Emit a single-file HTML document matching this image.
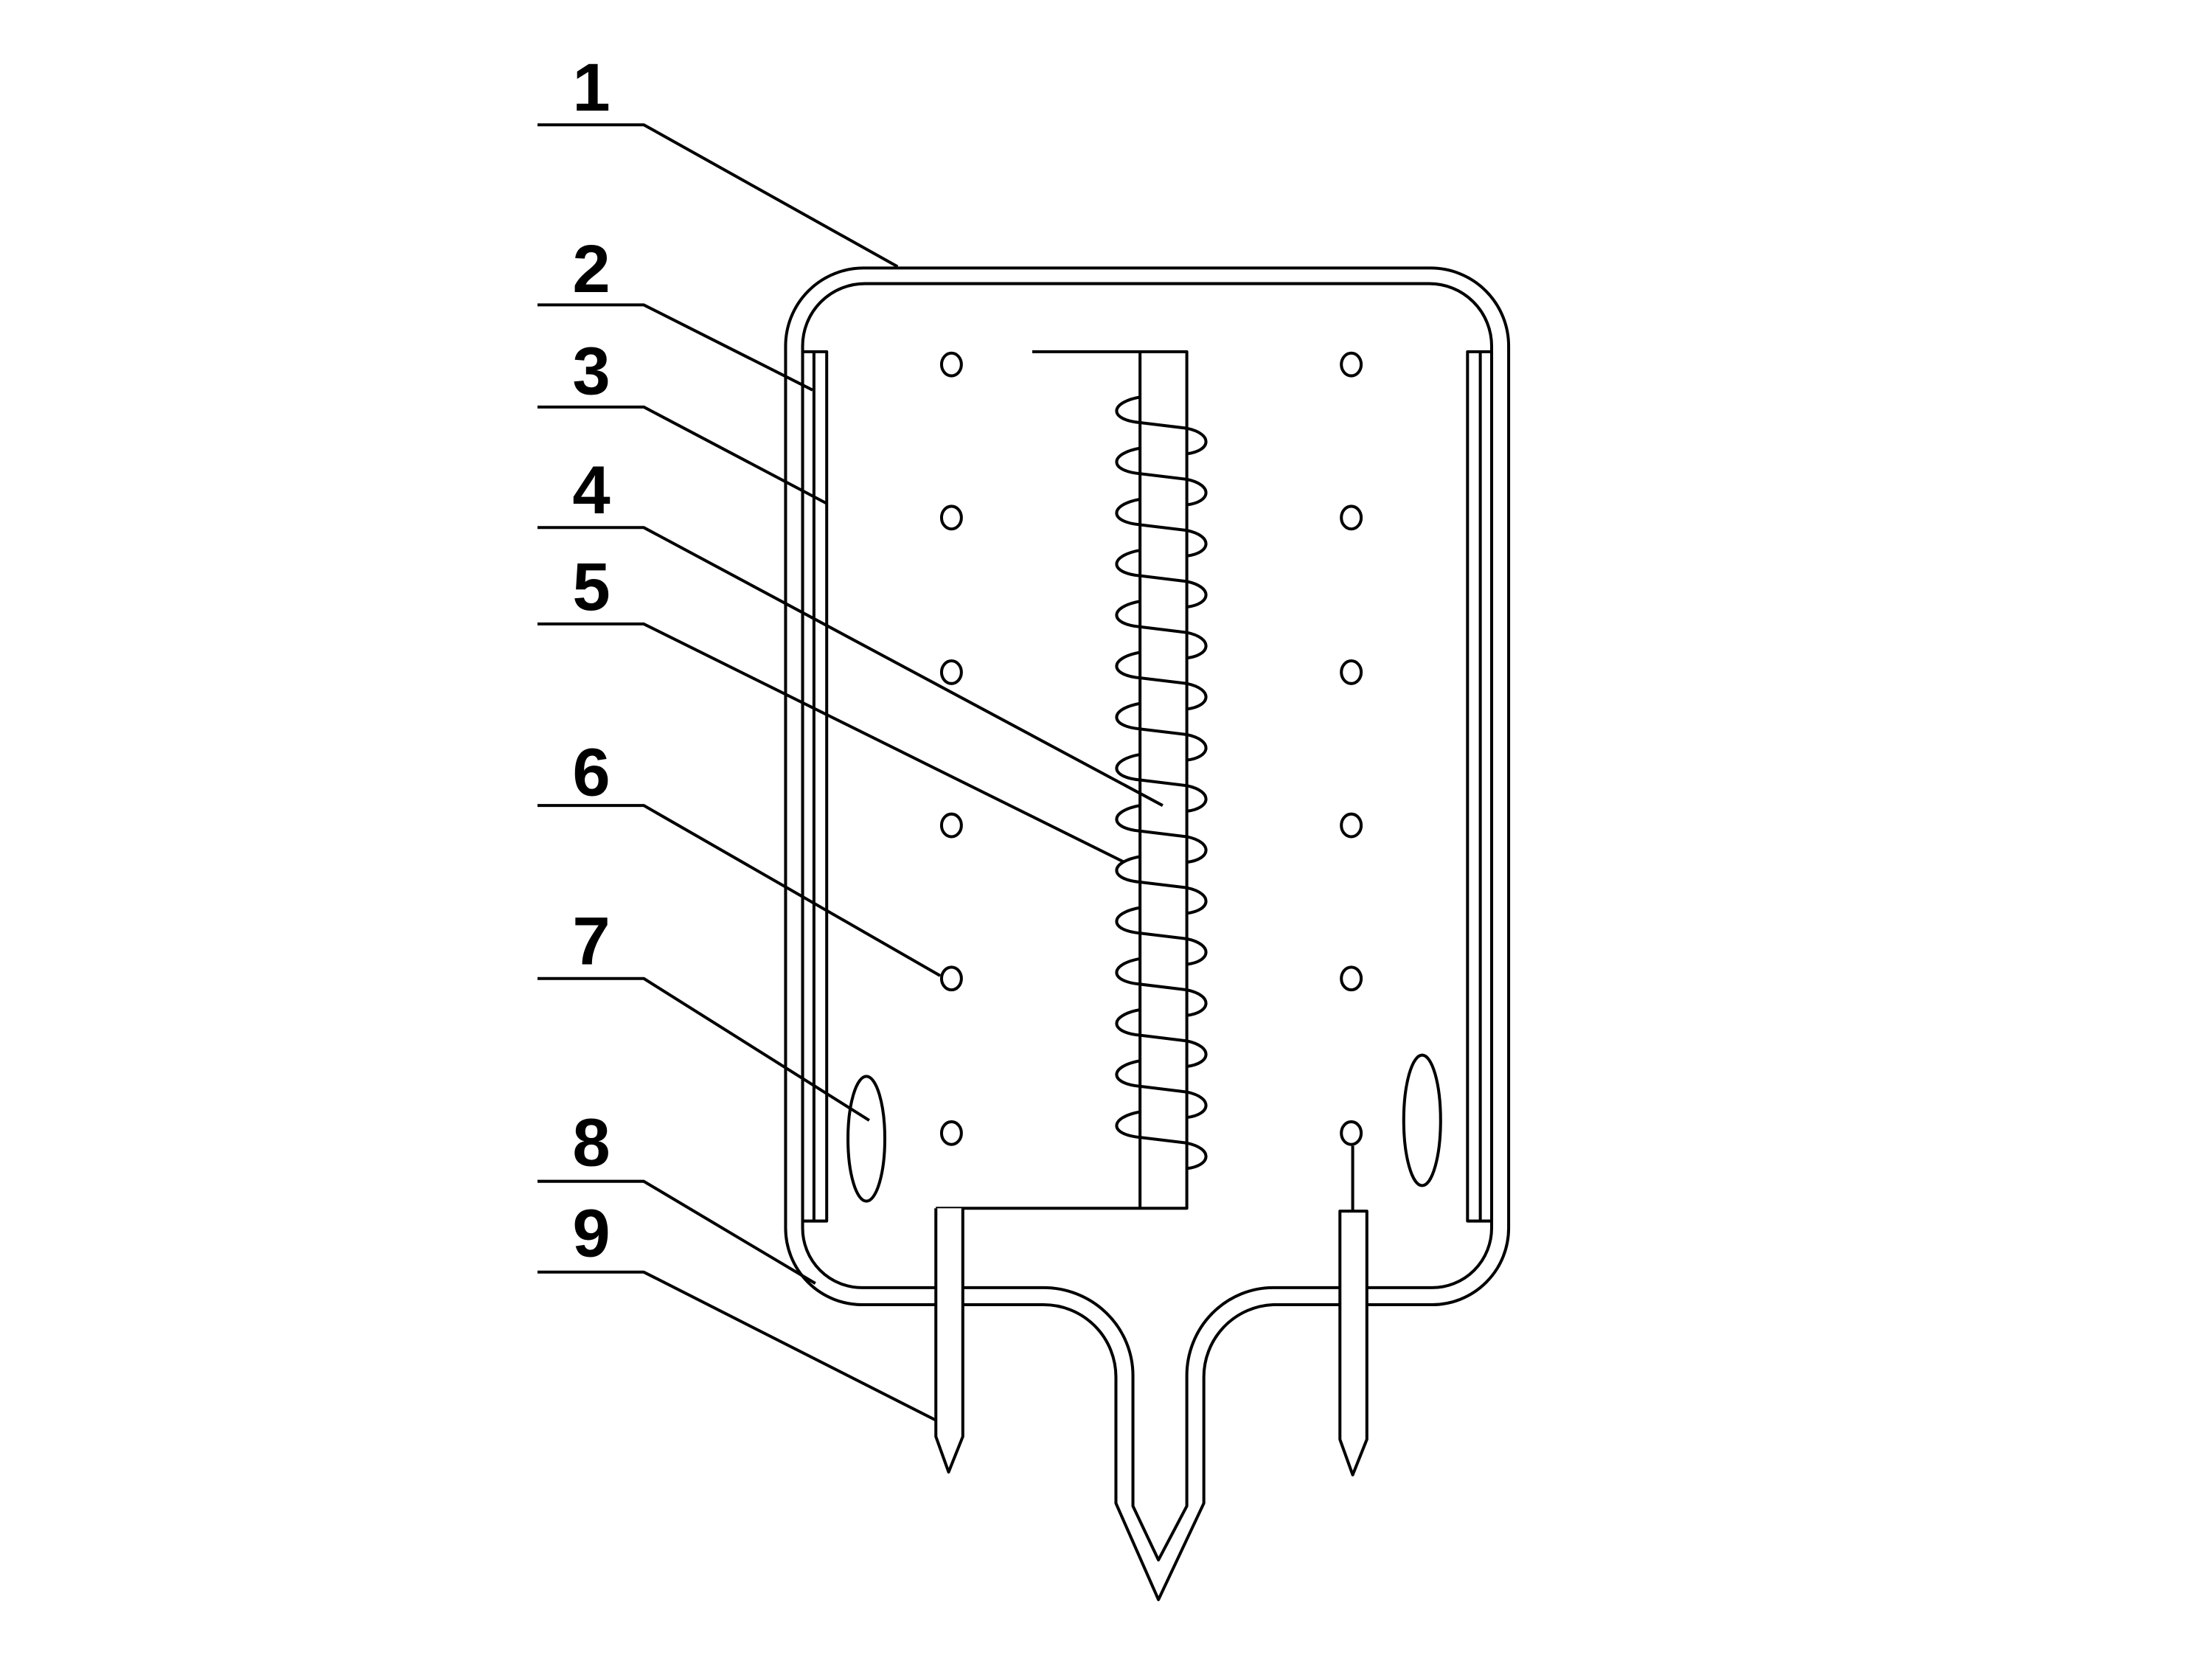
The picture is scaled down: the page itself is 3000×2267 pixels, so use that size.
<!DOCTYPE html>
<html><head><meta charset="utf-8"><style>
html,body{margin:0;padding:0;background:#fff;}
svg{display:block;}
text{font-family:"Liberation Sans",Arial,sans-serif;font-weight:bold;font-size:48px;fill:#000;}
</style></head><body>
<svg width="3000" height="2267" viewBox="0 0 1560 1179" xmlns="http://www.w3.org/2000/svg">
<g transform="translate(-2,0)">
<g fill="none" stroke="#000" stroke-width="2.1" stroke-linejoin="round">
<!-- labels leaders -->
<path d="M381 88 H456 L635 188"/>
<path d="M381 215 H456 L575 275"/>
<path d="M381 287 H456 L585 355"/>
<path d="M381 372 H456 L822 568"/>
<path d="M381 440 H456 L795 608"/>
<path d="M381 568 H456 L665 688"/>
<path d="M381 690 H456 L615 790"/>
<path d="M381 833 H456 L577 905"/>
<path d="M381 897 H456 L665 1003"/>
<!-- outer vessel -->
<path d="M556 866 V244 A55 55 0 0 1 611 189 H1011 A55 55 0 0 1 1066 244 V866 A54 54 0 0 1 1012 920 H900 A51 51 0 0 0 851 971 V1060 L819 1128 L789 1060 V971 A51 51 0 0 0 738 920 H610 A54 54 0 0 1 556 866 Z"/>
<!-- inner vessel -->
<path d="M568 866 V244 A44 44 0 0 1 612 200 H1010 A44 44 0 0 1 1054 244 V866 A42 42 0 0 1 1012 908 H900 A61 62 0 0 0 839 970 V1062 L819 1100 L801 1062 V970 A63 62 0 0 0 738 908 H610 A42 42 0 0 1 568 866 Z"/>
<!-- plates -->
<rect x="568" y="248" width="17" height="613"/>
<line x1="576" y1="248" x2="576" y2="861"/>
<rect x="1037" y="248" width="17" height="613"/>
<line x1="1046" y1="248" x2="1046" y2="861"/>
<!-- central rod -->
<path d="M730 248 H839 V852 H662"/>
<line x1="806" y1="248" x2="806" y2="852"/>
<!-- coil -->
<path d="M806 280 C784 284,784 296,806 298 L839 302 C858 306,856 318,839 320
M806 316 C784 320,784 332,806 334 L839 338 C858 342,856 354,839 356
M806 352 C784 356,784 368,806 370 L839 374 C858 378,856 390,839 392
M806 388 C784 392,784 404,806 406 L839 410 C858 414,856 426,839 428
M806 424 C784 428,784 440,806 442 L839 446 C858 450,856 462,839 464
M806 460 C784 464,784 476,806 478 L839 482 C858 486,856 498,839 500
M806 496 C784 500,784 512,806 514 L839 518 C858 522,856 534,839 536
M806 532 C784 536,784 548,806 550 L839 554 C858 558,856 570,839 572
M806 568 C784 572,784 584,806 586 L839 590 C858 594,856 606,839 608
M806 604 C784 608,784 620,806 622 L839 626 C858 630,856 642,839 644
M806 640 C784 644,784 656,806 658 L839 662 C858 666,856 678,839 680
M806 676 C784 680,784 692,806 694 L839 698 C858 702,856 714,839 716
M806 712 C784 716,784 728,806 730 L839 734 C858 738,856 750,839 752
M806 748 C784 752,784 764,806 766 L839 770 C858 774,856 786,839 788
M806 784 C784 788,784 800,806 802 L839 806 C858 810,856 822,839 824"/>
<!-- needles -->
<path d="M662 852 V1013 L671 1038 L681 1013 V852" fill="#fff"/>
<path d="M947 854 V1015 L956 1040 L966 1015 V854 Z" fill="#fff"/>
<line x1="956" y1="808" x2="956" y2="854"/>
<!-- dots -->
<g fill="#fff">
<ellipse cx="673" cy="257" rx="7" ry="8"/><ellipse cx="955" cy="257" rx="7" ry="8"/>
<ellipse cx="673" cy="365" rx="7" ry="8"/><ellipse cx="955" cy="365" rx="7" ry="8"/>
<ellipse cx="673" cy="474" rx="7" ry="8"/><ellipse cx="955" cy="474" rx="7" ry="8"/>
<ellipse cx="673" cy="582" rx="7" ry="8"/><ellipse cx="955" cy="582" rx="7" ry="8"/>
<ellipse cx="673" cy="690" rx="7" ry="8"/><ellipse cx="955" cy="690" rx="7" ry="8"/>
<ellipse cx="673" cy="799" rx="7" ry="8"/><ellipse cx="955" cy="799" rx="7" ry="8"/>
</g>
<ellipse cx="613" cy="803" rx="13" ry="44"/>
<ellipse cx="1005" cy="790" rx="13" ry="46"/>
</g>
<g text-anchor="middle">
<text x="419" y="78">1</text>
<text x="419" y="206">2</text>
<text x="419" y="278">3</text>
<text x="419" y="362">4</text>
<text x="419" y="430">5</text>
<text x="419" y="561">6</text>
<text x="419" y="680">7</text>
<text x="419" y="822">8</text>
<text x="419" y="886">9</text>
</g>
</g>
</svg>
</body></html>
